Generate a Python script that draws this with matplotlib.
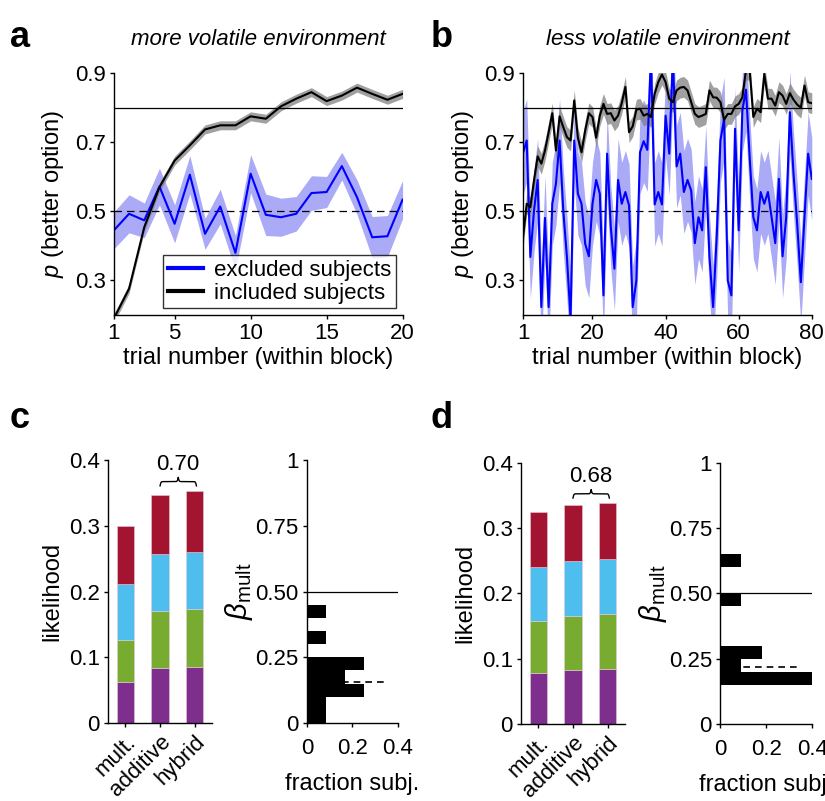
import numpy as np
import matplotlib.pyplot as plt

plt.rcParams['font.family'] = ['Liberation Sans', 'DejaVu Sans']
plt.rcParams['mathtext.fontset'] = 'custom'
plt.rcParams['mathtext.rm'] = 'Liberation Sans'
plt.rcParams['mathtext.it'] = 'Liberation Sans:italic'
plt.rcParams['font.size'] = 16

# ---- panel a: more volatile (20 trials)
trials_a = np.arange(1, 21)
incl_a = [0.19, 0.276, 0.454, 0.57, 0.647, 0.691, 0.737, 0.749, 0.749, 0.775,
          0.768, 0.804, 0.826, 0.845, 0.819, 0.835, 0.858, 0.840, 0.823, 0.840]
excl_a = [0.445, 0.493, 0.474, 0.572, 0.464, 0.606, 0.435, 0.514, 0.38, 0.609,
          0.49, 0.483, 0.493, 0.553, 0.556, 0.631, 0.541, 0.425, 0.428, 0.534]
incl_a_se = 0.013
excl_a_se = [0.053, 0.055, 0.05, 0.053, 0.055, 0.055, 0.045, 0.05, 0.05, 0.055,
             0.06, 0.055, 0.05, 0.05, 0.045, 0.04, 0.05, 0.06, 0.06, 0.055]

# ---- panel b: less volatile (80 trials)
trials_b = np.arange(1, 81)
incl_b = [0.426, 0.522, 0.512, 0.59, 0.659, 0.638, 0.676, 0.729, 0.784, 0.676,
          0.775, 0.744, 0.715, 0.705, 0.821, 0.713, 0.671, 0.734, 0.784, 0.773,
          0.713, 0.777, 0.811, 0.782, 0.784, 0.763, 0.777, 0.813, 0.86, 0.729,
          0.746, 0.794, 0.797, 0.777, 0.782, 0.773, 0.84, 0.874, 0.896, 0.874,
          0.826, 0.816, 0.85, 0.858, 0.86, 0.85, 0.816, 0.782, 0.773, 0.777,
          0.782, 0.85, 0.83, 0.829, 0.816, 0.765, 0.782, 0.782, 0.804, 0.811,
          0.83, 0.91, 0.91, 0.773, 0.797, 0.787, 0.898, 0.826, 0.826, 0.806,
          0.845, 0.835, 0.811, 0.842, 0.823, 0.809, 0.8, 0.864, 0.816, 0.813]
excl_b = [0.669, 0.705, 0.368, 0.503, 0.591, 0.223, 0.481, 0.223, 0.522, 0.58,
          0.705, 0.503, 0.368, 0.19, 0.705, 0.551, 0.522, 0.406, 0.37, 0.522,
          0.591, 0.551, 0.257, 0.667, 0.455, 0.334, 0.591, 0.522, 0.556, 0.517,
          0.223, 0.3, 0.671, 0.703, 0.678, 0.95, 0.52, 0.556, 0.52, 0.777,
          0.667, 0.95, 0.63, 0.667, 0.556, 0.591, 0.56, 0.408, 0.483, 0.445,
          0.628, 0.368, 0.223, 0.43, 0.705, 0.768, 0.3, 0.257, 0.739, 0.445,
          0.792, 0.852, 0.657, 0.483, 0.445, 0.556, 0.522, 0.556, 0.483, 0.408,
          0.594, 0.37, 0.483, 0.787, 0.609, 0.464, 0.295, 0.483, 0.667, 0.594]
incl_b_se = 0.03
excl_b_se = 0.12

# ---- panels c/d: likelihood stacks (per segment) and beta_mult histograms
models = ['mult.', 'additive', 'hybrid']
seg_colors = ['#7E2F8E', '#77AC30', '#4DBEEE', '#A2142F']
lik_c = [[0.062, 0.084, 0.085],
         [0.065, 0.087, 0.088],
         [0.084, 0.087, 0.088],
         [0.089, 0.089, 0.092]]
lik_d = [[0.078, 0.082, 0.084],
         [0.079, 0.084, 0.084],
         [0.083, 0.084, 0.085],
         [0.085, 0.085, 0.085]]
pval_c = '0.70'
pval_d = '0.68'

bin_lo = [0, 0.05, 0.1, 0.15, 0.2, 0.25, 0.3, 0.35, 0.4, 0.45, 0.5, 0.55, 0.6]
frac_c = [0.083, 0.083, 0.25, 0.167, 0.25, 0, 0.083, 0, 0.083, 0, 0, 0, 0]
frac_d = [0, 0, 0, 0.545, 0.091, 0.182, 0, 0, 0, 0.091, 0, 0, 0.091]
median_c = 0.155
median_d = 0.218

fig = plt.figure(figsize=(8.25, 8.01), dpi=100)

ax_a = fig.add_axes([0.138, 0.6067, 0.350, 0.302])
ax_b = fig.add_axes([0.634, 0.6067, 0.350, 0.302])
ax_c1 = fig.add_axes([0.131, 0.0974, 0.126, 0.328])
ax_c2 = fig.add_axes([0.372, 0.0974, 0.110, 0.328])
ax_d1 = fig.add_axes([0.6315, 0.0962, 0.126, 0.326])
ax_d2 = fig.add_axes([0.873, 0.0962, 0.1115, 0.326])


def style(ax):
    for s in ['top', 'right']:
        ax.spines[s].set_visible(False)
    for s in ['left', 'bottom']:
        ax.spines[s].set_linewidth(1.0)
    ax.tick_params(direction='out', length=3, width=1, labelsize=16, pad=3)


def timecourse(ax, x, excl, excl_se, incl, incl_se, xticks, title):
    excl = np.array(excl)
    incl = np.array(incl)
    ax.axhline(0.8, color='k', lw=0.9)
    ax.axhline(0.5, color='k', lw=0.9, ls=(0, (6, 4)))
    ax.fill_between(x, excl - np.array(excl_se), excl + np.array(excl_se),
                    color='#aaaaf7', lw=0)
    ax.fill_between(x, incl - incl_se, incl + incl_se, color='#808080',
                    alpha=0.75, lw=0)
    ax.plot(x, excl, color='#0000ff', lw=1.5, label='excluded subjects')
    ax.plot(x, incl, color='k', lw=1.5, label='included subjects')
    ax.set_xlim(x[0], x[-1])
    ax.set_ylim(0.2, 0.9)
    ax.set_yticks([0.3, 0.5, 0.7, 0.9])
    ax.set_xticks(xticks)
    ax.set_xlabel('trial number (within block)', fontsize=17, labelpad=2)
    ax.set_ylabel(r'$p$ (better option)', fontsize=17, labelpad=6)
    ax.set_title(title, fontsize=16, style='italic', pad=20)
    style(ax)


def brace(ax, x0, x1, y, h):
    # curly brace between x0 and x1, tips pointing down at y
    w = (x1 - x0) / 2
    t = np.linspace(0, w, 100)
    k = 40 / w
    half = 1 / (1 + np.exp(-k * t)) + 1 / (1 + np.exp(-k * (t - w)))
    half = (half - half.min()) / (half.max() - half.min())
    xs = np.concatenate([x0 + t, x0 + w + t])
    ys = np.concatenate([y + h * half, y + h * half[::-1]])
    ax.plot(xs, ys, color='k', lw=1, clip_on=False)


def stacks(ax, lik, pval):
    x = np.arange(1, 4)
    bottom = np.zeros(3)
    for seg, c in zip(lik, seg_colors):
        ax.bar(x, seg, width=0.5, bottom=bottom, color=c, edgecolor='#e8c8d8',
               lw=0.4)
        bottom += np.array(seg)
    ax.set_xlim(0.5, 3.5)
    ax.set_ylim(0, 0.4)
    ax.set_yticks([0, 0.1, 0.2, 0.3, 0.4])
    ax.set_yticklabels(['0', '0.1', '0.2', '0.3', '0.4'])
    ax.set_xticks(x)
    ax.set_xticklabels(models, rotation=45, ha='right', rotation_mode='anchor',
                       fontsize=15)
    ax.set_ylabel('likelihood', fontsize=17, labelpad=4)
    top = bottom[1:].max()
    brace(ax, 2, 3.05, top + 0.008, 0.013)
    ax.text(2.5, top + 0.025, pval, ha='center', va='bottom', fontsize=16)
    style(ax)


def hist(ax, frac, med):
    ax.plot([0, 0.34], [med, med], color='k', lw=1.2, ls=(0, (4, 3)), zorder=1)
    ax.barh(bin_lo, frac, height=0.05, align='edge', color='k', zorder=2)
    ax.plot([0, 0.4], [0.5, 0.5], color='k', lw=0.9, zorder=3)
    ax.set_xlim(0, 0.4)
    ax.set_ylim(0, 1)
    ax.set_xticks([0, 0.2, 0.4])
    ax.set_xticklabels(['0', '0.2', '0.4'])
    ax.set_yticks([0, 0.25, 0.5, 0.75, 1])
    ax.set_yticklabels(['0', '0.25', '0.50', '0.75', '1'])
    ax.set_xlabel('fraction subj.', fontsize=17, labelpad=10)
    ax.set_ylabel(r'$\beta_{\mathrm{mult}}$', fontsize=21, labelpad=0)
    style(ax)
    ax.tick_params(axis='x', pad=8)


timecourse(ax_a, trials_a, excl_a, excl_a_se, incl_a, incl_a_se,
           [1, 5, 10, 15, 20], 'more volatile environment')
leg = ax_a.legend(loc='lower right', fontsize=16, frameon=True, fancybox=False,
                  handlelength=1.6, borderpad=0.2, labelspacing=0.1,
                  handletextpad=0.5, borderaxespad=0.3)
leg.get_frame().set_edgecolor('k')
leg.get_frame().set_linewidth(1)
for line in leg.get_lines():
    line.set_linewidth(3)

timecourse(ax_b, trials_b, excl_b, excl_b_se, incl_b, incl_b_se,
           [1, 20, 40, 60, 80], 'less volatile environment')

stacks(ax_c1, lik_c, pval_c)
stacks(ax_d1, lik_d, pval_d)
hist(ax_c2, frac_c, median_c)
hist(ax_d2, frac_d, median_d)

for lbl, x, y in [('a', 0.012, 0.975), ('b', 0.522, 0.975),
                  ('c', 0.012, 0.5), ('d', 0.522, 0.5)]:
    fig.text(x, y, lbl, fontsize=26, fontweight='bold', va='top')

plt.savefig('out.png', dpi=100)
